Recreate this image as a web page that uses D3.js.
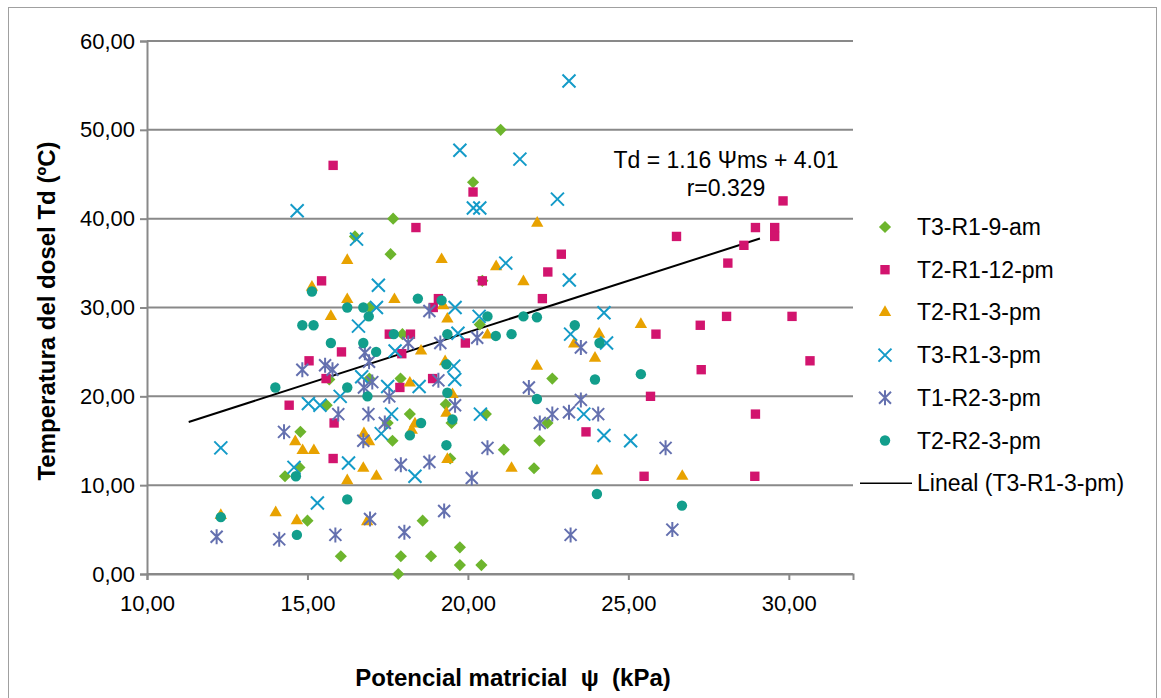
<!DOCTYPE html>
<html lang="es">
<head>
<meta charset="utf-8">
<title>Temperatura del dosel vs potencial matricial</title>
<script src="https://d3js.org/d3.v7.min.js"></script>
<style>
  body { margin: 0; background: #fff; }
  text { font-family: Arial, "Liberation Sans", sans-serif; fill: #000; }
</style>
</head>
<body>
<script>

// data: [potencial matricial (kPa), Td (ºC)]
var t3r1_9am = [[21.02,50.0],[20.16,44.1],[17.67,40.0],[16.48,38.0],[17.59,36.0],[20.45,33.0],
  [16.93,30.0],[20.37,28.1],[17.96,27.0],[15.68,21.9],[16.93,22.0],[17.90,22.0],[22.63,22.0],
  [15.60,19.0],[19.31,19.1],[18.19,18.0],[20.56,18.0],[17.50,17.0],[19.49,17.0],[22.48,17.0],
  [14.78,16.0],[17.65,15.0],[22.23,15.0],[21.12,14.0],[19.45,13.0],[14.75,12.0],[22.06,11.9],
  [14.30,11.0],[15.00,6.0],[18.59,6.0],[19.75,3.0],[16.04,2.0],[17.91,2.0],[18.85,2.0],
  [19.75,1.0],[20.42,1.0],[17.83,0.0]];

var t2r1_12pm = [[15.80,46.0],[20.16,43.0],[29.82,42.0],[18.38,39.0],[28.96,39.0],[29.56,39.0],
  [29.56,38.0],[26.50,38.0],[28.60,37.0],[22.91,36.0],[28.10,35.0],[22.49,34.0],[15.44,33.0],
  [20.45,33.0],[22.32,31.0],[19.08,31.0],[18.92,30.0],[28.06,29.0],[30.10,29.0],[27.24,28.0],
  [17.55,27.0],[18.21,27.0],[25.86,27.0],[19.92,26.0],[16.06,25.0],[17.94,24.8],[15.05,24.0],
  [30.66,24.0],[27.27,23.0],[15.58,22.0],[18.90,22.0],[17.88,21.0],[25.69,20.0],[14.43,19.0],
  [28.96,18.0],[15.83,17.0],[23.68,16.0],[15.80,13.0],[25.49,11.0],[28.94,11.0]];

var t2r1_3pm = [[22.16,39.5],[16.24,35.3],[19.18,35.4],[20.88,34.6],[21.73,32.9],[15.14,32.3],
  [16.24,30.9],[17.71,30.9],[19.23,30.2],[15.73,29.0],[19.36,28.7],[25.39,28.1],[20.61,26.9],
  [24.09,27.0],[23.31,25.9],[18.54,25.1],[23.96,24.3],[19.29,23.9],[22.15,23.4],[18.19,21.5],
  [19.52,20.2],[19.33,18.1],[18.35,16.9],[18.25,16.2],[16.76,15.8],[14.62,14.9],[16.92,14.9],
  [14.85,13.9],[15.20,13.9],[19.36,12.9],[16.74,11.9],[21.36,11.9],[24.02,11.6],[17.15,11.0],
  [26.68,11.0],[16.24,10.5],[14.01,6.9],[12.30,6.6],[14.67,6.0],[16.86,5.9]];

var t3r1_3pm = [[23.15,55.5],[19.75,47.7],[21.62,46.7],[22.79,42.2],[20.17,41.2],[20.37,41.2],
  [14.68,40.9],[16.53,37.7],[21.18,35.0],[23.16,33.1],[17.21,32.5],[17.15,30.0],[19.60,30.0],
  [20.35,29.0],[24.24,29.4],[16.59,27.9],[19.69,27.1],[23.20,27.0],[24.32,26.0],[17.73,25.1],
  [19.56,23.4],[16.69,22.2],[19.59,21.9],[17.50,21.1],[18.48,21.1],[16.02,20.0],[15.03,19.2],
  [15.39,19.0],[17.62,18.0],[20.39,18.0],[23.61,18.0],[17.30,15.8],[24.24,15.6],[25.07,15.0],
  [12.30,14.2],[16.28,12.5],[14.58,12.0],[18.35,11.0],[15.31,8.0]];

var t1r2_3pm = [[18.80,29.6],[20.29,26.6],[19.14,26.0],[18.14,26.0],[23.52,25.5],[16.79,24.9],
  [16.92,23.9],[14.84,23.0],[15.55,23.5],[15.78,23.0],[19.08,21.8],[17.02,21.6],[16.76,21.0],
  [21.90,21.0],[17.55,20.0],[23.52,19.6],[19.60,19.0],[15.96,18.0],[16.90,18.0],[22.63,18.0],
  [23.15,18.2],[24.06,18.0],[17.41,17.0],[22.24,17.0],[14.27,16.0],[16.74,15.0],[20.61,14.2],
  [26.16,14.2],[18.80,12.6],[17.91,12.3],[20.12,10.8],[19.26,7.1],[16.95,6.2],[26.37,5.0],
  [18.02,4.7],[23.20,4.4],[15.87,4.4],[12.17,4.2],[14.12,3.9]];

var t2r2_3pm = [[15.14,31.8],[18.44,31.0],[19.18,30.8],[16.24,30.0],[16.74,30.0],[16.91,29.0],
  [20.61,29.0],[21.73,29.0],[22.15,28.9],[14.84,28.0],[15.19,28.0],[23.33,28.0],[17.69,27.0],
  [19.36,27.0],[20.87,26.8],[21.36,27.0],[15.73,26.0],[16.74,26.0],[24.10,26.0],[17.14,25.0],
  [19.33,23.6],[25.39,22.5],[23.96,21.9],[14.00,21.0],[16.24,21.0],[19.36,20.4],[16.87,20.0],
  [22.15,19.7],[19.52,17.4],[18.54,17.0],[18.19,15.6],[19.33,14.5],[14.64,11.0],[16.24,8.4],
  [24.02,9.0],[26.67,7.7],[12.30,6.4],[14.67,4.4]];

var seriesNames = ["T3-R1-9-am", "T2-R1-12-pm", "T2-R1-3-pm", "T3-R1-3-pm", "T1-R2-3-pm", "T2-R2-3-pm"];
var seriesData = [t3r1_9am, t2r1_12pm, t2r1_3pm, t3r1_3pm, t1r2_3pm, t2r2_3pm];
var seriesColors = ["#6db52d", "#d2146e", "#e8a200", "#149bc8", "#6470af", "#129e8c"];
var seriesShapes = ["diamond", "square", "triangle", "x", "star", "circle"];

var xTicks = [10, 15, 20, 25, 30];
var yTicks = [0, 10, 20, 30, 40, 50, 60];
var xDomain = [10, 32];
var yDomain = [0, 60];

// linear trend of T3-R1-3-pm as printed on the chart
var trendSlope = 1.16, trendIntercept = 4.01;
var trendRange = [11.3, 29.1];
var trendLabel = ["Td = 1.16 \u03A8ms + 4.01", "r=0.329"];
var trendName = "Lineal (T3-R1-3-pm)";

var w = 1161, h = 698;
var plot = {left: 147, top: 41, right: 853, bottom: 574};

var svg = d3.select("body").append("svg")
    .attr("width", w)
    .attr("height", h);

svg.append("rect")
    .attr("x", 8.5).attr("y", 7.5)
    .attr("width", 1148).attr("height", 720)
    .attr("fill", "#fff")
    .attr("stroke", "#a0a0a0")
    .attr("stroke-width", 1);

var x = d3.scaleLinear().domain(xDomain).range([plot.left, plot.right]);
var y = d3.scaleLinear().domain(yDomain).range([plot.bottom, plot.top]);

var fmt = d3.formatLocale({decimal: ",", thousands: ".", grouping: [3], currency: ["", ""]}).format(".2f");
var gridColor = "#898989";

// horizontal gridlines
svg.append("g")
  .selectAll("line")
  .data(yTicks)
  .enter().append("line")
    .attr("x1", plot.left).attr("x2", plot.right)
    .attr("y1", d => y(d)).attr("y2", d => y(d))
    .attr("stroke", gridColor)
    .attr("stroke-width", 2);

// y axis
var yAxis = svg.append("g")
    .attr("transform", "translate(" + plot.left + ",0)")
    .call(d3.axisLeft(y).tickValues(yTicks).tickFormat(fmt).tickSize(7).tickPadding(5));

// x axis
var xAxis = svg.append("g")
    .attr("transform", "translate(0," + plot.bottom + ")")
    .call(d3.axisBottom(x).tickValues(xTicks).tickFormat(fmt).tickSize(6).tickPadding(15));

[yAxis, xAxis].forEach(function(a) {
  a.select(".domain").attr("stroke", gridColor).attr("stroke-width", 2);
  a.selectAll(".tick line").attr("stroke", gridColor).attr("stroke-width", 2);
  a.selectAll(".tick text")
    .attr("font-family", "Arial, 'Liberation Sans', sans-serif")
    .attr("font-size", 22)
    .attr("fill", "#000");
});

// trend line
var line = d3.line().x(d => x(d)).y(d => y(trendSlope * d + trendIntercept));
svg.append("path")
    .datum(trendRange)
    .attr("d", line)
    .attr("fill", "none")
    .attr("stroke", "#000")
    .attr("stroke-width", 2);

// marker drawing
function drawMarker(g, shape, color) {
  if (shape == "diamond") {
    g.append("path")
      .attr("d", d3.symbol().type(d3.symbolSquare).size(74)())
      .attr("transform", "rotate(45)")
      .attr("fill", color);
  } else if (shape == "square") {
    g.append("path")
      .attr("d", d3.symbol().type(d3.symbolSquare).size(88)())
      .attr("fill", color);
  } else if (shape == "triangle") {
    g.append("path")
      .attr("d", d3.symbol().type(d3.symbolTriangle).size(66)())
      .attr("fill", color);
  } else if (shape == "circle") {
    g.append("circle")
      .attr("r", 5.2)
      .attr("fill", color);
  } else if (shape == "x") {
    g.append("path")
      .attr("d", "M-6.5,-6.5L6.5,6.5M-6.5,6.5L6.5,-6.5")
      .attr("stroke", color)
      .attr("stroke-width", 2)
      .attr("fill", "none");
  } else if (shape == "star") {
    g.append("path")
      .attr("d", "M-6,-6L6,6M-6,6L6,-6M0,-7.5L0,7.5")
      .attr("stroke", color)
      .attr("stroke-width", 2)
      .attr("fill", "none");
  }
}

// points
seriesData.forEach(function(data, i) {
  svg.append("g")
    .selectAll("g")
    .data(data)
    .enter().append("g")
      .attr("transform", d => "translate(" + x(d[0]) + "," + y(d[1]) + ")")
      .each(function() { drawMarker(d3.select(this), seriesShapes[i], seriesColors[i]); });
});

// equation
svg.append("text")
    .attr("x", 726).attr("y", 168)
    .attr("text-anchor", "middle")
    .attr("font-size", 23)
    .text(trendLabel[0]);
svg.append("text")
    .attr("x", 726).attr("y", 196)
    .attr("text-anchor", "middle")
    .attr("font-size", 23)
    .text(trendLabel[1]);

// legend
var legend = svg.append("g");
seriesNames.forEach(function(name, i) {
  var ly = 227 + i * 42.7;
  var g = legend.append("g").attr("transform", "translate(885," + ly + ")");
  drawMarker(g, seriesShapes[i], seriesColors[i]);
  legend.append("text")
    .attr("x", 917).attr("y", ly + 8)
    .attr("font-size", 23)
    .text(name);
});
var lly = 227 + 6 * 42.7;
legend.append("line")
    .attr("x1", 860).attr("x2", 912)
    .attr("y1", lly).attr("y2", lly)
    .attr("stroke", "#000")
    .attr("stroke-width", 1.5);
legend.append("text")
    .attr("x", 917).attr("y", lly + 8)
    .attr("font-size", 23)
    .text(trendName);

// axis titles
svg.append("text")
    .attr("x", 513).attr("y", 686)
    .attr("text-anchor", "middle")
    .attr("font-size", 24)
    .attr("font-weight", "bold")
    .style("white-space", "pre")
    .text("Potencial matricial  \u03C8  (kPa)");

svg.append("text")
    .attr("transform", "translate(55,311) rotate(-90)")
    .attr("text-anchor", "middle")
    .attr("font-size", 24)
    .attr("font-weight", "bold")
    .text("Temperatura del dosel Td (\u00BAC)");

</script>
</body>
</html>
